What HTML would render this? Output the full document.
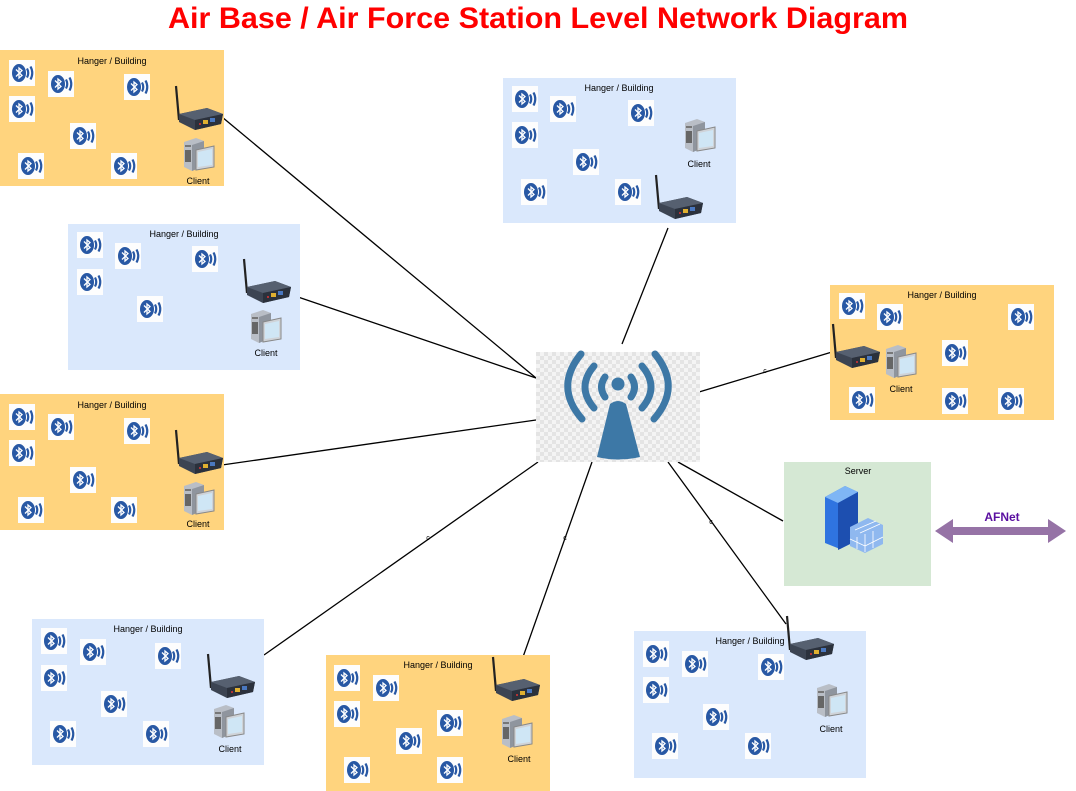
<!DOCTYPE html>
<html><head><meta charset="utf-8"><style>
html,body{margin:0;padding:0;background:#fff;}
svg{display:block;font-family:"Liberation Sans",sans-serif;}
</style></head><body>
<svg width="1076" height="791" viewBox="0 0 1076 791" xmlns="http://www.w3.org/2000/svg">
<defs>
<symbol id="bt" viewBox="0 0 26 26" width="26" height="26">
<rect x="0" y="0" width="26" height="26" fill="#fdfdfd"/>
<ellipse cx="10" cy="13" rx="7" ry="9" fill="#2858a4"/>
<path d="M7 9.5 L13 15.5 L10 18 L10 8 L13 10.5 L7 16.5" fill="none" stroke="#fff" stroke-width="1.3"/>
<path d="M18 8.5 Q20.5 13 18 17.5" fill="none" stroke="#2858a4" stroke-width="2.2"/>
<path d="M21.5 6.5 Q25 13 21.5 19.5" fill="none" stroke="#2858a4" stroke-width="2.2"/>
</symbol>
<symbol id="rt" viewBox="0 0 52 48" width="52" height="48">
<path d="M3 2 L6 36" stroke="#222" stroke-width="2.2"/>
<path d="M6 30 L34 24 L50 30 L48 40 L22 46 L6 38 Z" fill="#3c4452"/>
<path d="M6 30 L34 24 L50 30 L22 36 Z" fill="#566070"/>
<path d="M22 36 L50 30 L48 40 L22 46 Z" fill="#2b313c"/>
<rect x="30" y="36" width="5" height="4" fill="#e0b030"/>
<rect x="37" y="34" width="5" height="4" fill="#4a78c0"/>
<circle cx="27" cy="40" r="1" fill="#d33"/>
</symbol>
<symbol id="cl" viewBox="0 0 34 36" width="34" height="36">
<path d="M2 6 L14 2 L22 5 L22 30 L10 35 L2 31 Z" fill="#b9bec6"/>
<path d="M10 9 L22 5 L22 30 L10 35 Z" fill="#8f959e"/>
<rect x="3" y="9" width="6" height="2" fill="#777"/>
<rect x="3" y="14" width="6" height="12" fill="#666"/>
<path d="M14 14 L32 10 L32 31 L14 34 Z" fill="#cfd3d8" stroke="#888" stroke-width="1"/>
<path d="M16 16 L30 13 L30 29 L16 31 Z" fill="#cfe6f5"/>
</symbol>
<pattern id="chk" width="8" height="8" patternUnits="userSpaceOnUse">
<rect width="8" height="8" fill="#f4f4f4"/><rect width="4" height="4" fill="#e4e4e4"/><rect x="4" y="4" width="4" height="4" fill="#e4e4e4"/>
</pattern>
</defs>

<text x="538" y="28" text-anchor="middle" font-size="30" font-weight="bold" fill="#ff0000" textLength="740" lengthAdjust="spacingAndGlyphs">Air Base / Air Force Station Level Network Diagram</text>

<g stroke="#000" stroke-width="1.3">
<line x1="222" y1="117" x2="536" y2="378"/>
<line x1="298" y1="297" x2="536" y2="378"/>
<line x1="222" y1="465" x2="536" y2="420"/>
<line x1="264" y1="655" x2="538" y2="462"/>
<line x1="523" y1="657" x2="592" y2="462"/>
<line x1="786" y1="624" x2="668" y2="462"/>
<line x1="783" y1="521" x2="678" y2="462"/>
<line x1="699" y1="392" x2="832" y2="352"/>
<line x1="622" y1="344" x2="668" y2="228"/>
</g>
<g font-size="7" fill="#000" text-anchor="middle">
<text x="428" y="540">c</text><text x="565" y="540">c</text><text x="711" y="524">c</text><text x="765" y="373">c</text>
</g>

<rect x="0" y="50" width="224" height="136" fill="#ffd47e"/>
<text x="112" y="64" font-size="9" text-anchor="middle">Hanger / Building</text>
<use href="#bt" x="9" y="60"/><use href="#bt" x="48" y="71"/><use href="#bt" x="124" y="74"/><use href="#bt" x="9" y="96"/><use href="#bt" x="70" y="123"/><use href="#bt" x="18" y="153"/><use href="#bt" x="111" y="153"/>
<use href="#rt" x="173" y="84"/><use href="#cl" x="182" y="136"/>
<text x="198" y="184" font-size="9" text-anchor="middle">Client</text>

<rect x="68" y="224" width="232" height="146" fill="#dae8fc"/>
<text x="184" y="237" font-size="9" text-anchor="middle">Hanger / Building</text>
<use href="#bt" x="77" y="232"/><use href="#bt" x="115" y="243"/><use href="#bt" x="192" y="246"/><use href="#bt" x="77" y="269"/><use href="#bt" x="137" y="296"/>
<use href="#rt" x="241" y="257"/><use href="#cl" x="249" y="308"/>
<text x="266" y="356" font-size="9" text-anchor="middle">Client</text>

<rect x="0" y="394" width="224" height="136" fill="#ffd47e"/>
<text x="112" y="408" font-size="9" text-anchor="middle">Hanger / Building</text>
<use href="#bt" x="9" y="404"/><use href="#bt" x="48" y="414"/><use href="#bt" x="124" y="418"/><use href="#bt" x="9" y="440"/><use href="#bt" x="70" y="467"/><use href="#bt" x="18" y="497"/><use href="#bt" x="111" y="497"/>
<use href="#rt" x="173" y="428"/><use href="#cl" x="182" y="480"/>
<text x="198" y="527" font-size="9" text-anchor="middle">Client</text>

<rect x="32" y="619" width="232" height="146" fill="#dae8fc"/>
<text x="148" y="632" font-size="9" text-anchor="middle">Hanger / Building</text>
<use href="#bt" x="41" y="628"/><use href="#bt" x="80" y="639"/><use href="#bt" x="155" y="643"/><use href="#bt" x="41" y="665"/><use href="#bt" x="101" y="691"/><use href="#bt" x="50" y="721"/><use href="#bt" x="143" y="721"/>
<use href="#rt" x="205" y="652"/><use href="#cl" x="212" y="703"/>
<text x="230" y="752" font-size="9" text-anchor="middle">Client</text>

<rect x="326" y="655" width="224" height="136" fill="#ffd47e"/>
<text x="438" y="668" font-size="9" text-anchor="middle">Hanger / Building</text>
<use href="#bt" x="334" y="665"/><use href="#bt" x="373" y="675"/><use href="#bt" x="334" y="701"/><use href="#bt" x="437" y="710"/><use href="#bt" x="396" y="728"/><use href="#bt" x="344" y="757"/><use href="#bt" x="437" y="757"/>
<use href="#rt" x="490" y="655"/><use href="#cl" x="500" y="713"/>
<text x="519" y="762" font-size="9" text-anchor="middle">Client</text>

<rect x="634" y="631" width="232" height="147" fill="#dae8fc"/>
<text x="750" y="644" font-size="9" text-anchor="middle">Hanger / Building</text>
<use href="#bt" x="643" y="641"/><use href="#bt" x="682" y="651"/><use href="#bt" x="758" y="654"/><use href="#bt" x="643" y="677"/><use href="#bt" x="703" y="704"/><use href="#bt" x="652" y="733"/><use href="#bt" x="745" y="733"/>
<use href="#rt" x="784" y="614"/><use href="#cl" x="815" y="682"/>
<text x="831" y="732" font-size="9" text-anchor="middle">Client</text>

<rect x="503" y="78" width="233" height="145" fill="#dae8fc"/>
<text x="619" y="91" font-size="9" text-anchor="middle">Hanger / Building</text>
<use href="#bt" x="512" y="86"/><use href="#bt" x="550" y="96"/><use href="#bt" x="628" y="100"/><use href="#bt" x="512" y="122"/><use href="#bt" x="573" y="149"/><use href="#bt" x="521" y="179"/><use href="#bt" x="615" y="179"/>
<use href="#cl" x="683" y="117"/>
<text x="699" y="167" font-size="9" text-anchor="middle">Client</text>
<use href="#rt" x="653" y="173"/>

<rect x="830" y="285" width="224" height="135" fill="#ffd47e"/>
<text x="942" y="298" font-size="9" text-anchor="middle">Hanger / Building</text>
<use href="#bt" x="839" y="293"/><use href="#bt" x="877" y="304"/><use href="#bt" x="1008" y="304"/><use href="#bt" x="942" y="340"/><use href="#bt" x="849" y="387"/><use href="#bt" x="942" y="388"/><use href="#bt" x="998" y="388"/>
<use href="#rt" x="830" y="322"/><use href="#cl" x="884" y="343"/>
<text x="901" y="392" font-size="9" text-anchor="middle">Client</text>

<rect x="536" y="352" width="164" height="110" fill="url(#chk)"/>
<g fill="none" stroke="#3d78a6" stroke-width="7" stroke-linecap="round">
<path d="M581 354 Q554 387 582 419"/>
<path d="M655 354 Q682 387 654 419"/>
<path d="M594 366 Q576 387 594 408"/>
<path d="M642 366 Q660 387 642 408"/>
<path d="M605 377 Q598 387 605 397"/>
<path d="M631 377 Q638 387 631 397"/>
</g>
<circle cx="618" cy="384" r="6.5" fill="#3d78a6"/>
<path d="M610 404 Q618 398 626 404 L640 457 Q618 462 597 457 Z" fill="#3d78a6"/>

<rect x="784" y="462" width="147" height="124" fill="#d5e8d4"/>
<text x="858" y="474" font-size="9" text-anchor="middle">Server</text>
<path d="M825 497 L845 486 L858 492 L858 540 L840 549 L825 543 Z" fill="#2f74e0"/>
<path d="M825 497 L845 486 L858 492 L838 503 Z" fill="#7fb6f5"/>
<path d="M838 503 L858 492 L858 540 L838 550 Z" fill="#1d4fb0"/>
<path d="M850 527 L868 518 L883 525 L883 544 L865 553 L850 546 Z" fill="#8fb8ef"/>
<g stroke="#fff" stroke-width="0.8"><line x1="855" y1="530" x2="876" y2="521"/><line x1="860" y1="533" x2="880" y2="524"/><line x1="857" y1="537" x2="857" y2="549"/><line x1="865" y1="534" x2="865" y2="552"/><line x1="873" y1="531" x2="873" y2="548"/><line x1="850" y1="539" x2="865" y2="546"/><line x1="865" y1="546" x2="883" y2="537"/></g>

<path d="M935 531 L953 519 L953 527 L1048 527 L1048 519 L1066 531 L1048 543 L1048 535 L953 535 L953 543 Z" fill="#9673a6"/>
<text x="1002" y="521" font-size="12" font-weight="bold" fill="#5a0fa0" text-anchor="middle">AFNet</text>
</svg>
</body></html>
